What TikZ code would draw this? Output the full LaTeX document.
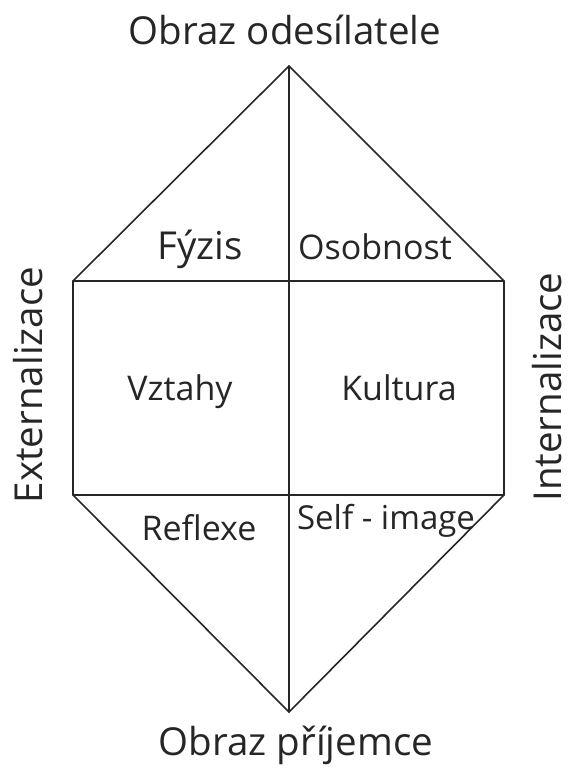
\documentclass[tikz,border=0pt]{standalone}
\usepackage{fontspec}
\setmainfont{Open Sans}
\usetikzlibrary{positioning, calc}

\tikzset{
  edge/.style={line width=1.6pt, black!85, line cap=round, line join=round},
  lbl/.style={anchor=base, inner sep=0pt, text=black!85, font=\fontsize{34}{40}\selectfont},
  biglbl/.style={lbl, font=\fontsize{38.5}{44}\selectfont}
}

\begin{document}
\begin{tikzpicture}[x=1pt, y=-1pt]
\useasboundingbox (0,0) rectangle (570,768);
% Corners of the hexagon
\coordinate (top) at (289,66);
\coordinate (bot) at (289,712);
\coordinate (tl) at (73,281);
\coordinate (tr) at (504,281);
\coordinate (bl) at (73,495);
\coordinate (br) at (504,495);
% Outline and dividers
\draw[edge] (top) -- (tl) -- (bl) -- (bot) -- (br) -- (tr) -- cycle;
\draw[edge] (tl) -- (tr);
\draw[edge] (bl) -- (br);
\draw[edge] (top) -- (bot);
% Outer labels
\node[biglbl] (sender) at (285,45) {Obraz odesílatele};
\node[biglbl] (receiver) at (296,755) {Obraz příjemce};
\node[biglbl, rotate=90] (ext) at (42,385) {Externalizace};
\node[biglbl, rotate=90] (int) at (561,387) {Internalizace};
% Cell labels
\node[biglbl] (fyzis) at (200,259) {Fýzis};
\node[lbl] (osobnost) at (375,259) {Osobnost};
\node[lbl] (vztahy) at (180,400) {Vztahy};
\node[lbl] (kultura) at (399,400) {Kultura};
\node[lbl] (reflexe) at (199,540) {Reflexe};
\node[lbl, font=\fontsize{33}{38}\selectfont] (selfimg) at (386,529) {Self - image};
\end{tikzpicture}
\end{document}
